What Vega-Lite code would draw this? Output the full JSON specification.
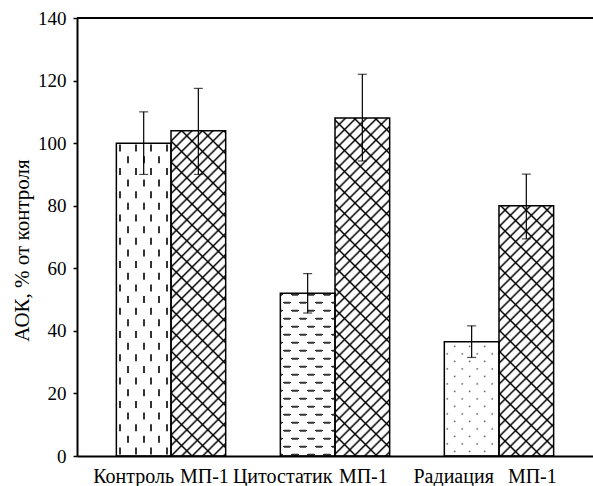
{
"$schema":"https://vega.github.io/schema/vega-lite/v6.json",
"width":516,"height":438,
"autosize":{"type":"none"},
"padding":{"left":77,"top":18,"right":0,"bottom":30},
"background":"white",
"config":{"view":{"stroke":null},"font":"Liberation Serif"},
"params":[
{"name":"slashG","value":{"gradient":"linear","stops":[
{"offset":0,"color":"#000"},{"offset":0.005,"color":"#fff"},{"offset":0.02,"color":"#fff"},
{"offset":0.025,"color":"#000"},{"offset":0.03,"color":"#fff"},{"offset":0.045,"color":"#fff"},
{"offset":0.05,"color":"#000"},{"offset":0.055,"color":"#fff"},{"offset":0.07,"color":"#fff"},
{"offset":0.075,"color":"#000"},{"offset":0.08,"color":"#fff"},{"offset":0.095,"color":"#fff"},
{"offset":0.1,"color":"#000"},{"offset":0.105,"color":"#fff"},{"offset":0.12,"color":"#fff"},
{"offset":0.125,"color":"#000"},{"offset":0.13,"color":"#fff"},{"offset":0.145,"color":"#fff"},
{"offset":0.15,"color":"#000"},{"offset":0.155,"color":"#fff"},{"offset":0.17,"color":"#fff"},
{"offset":0.175,"color":"#000"},{"offset":0.18,"color":"#fff"},{"offset":0.195,"color":"#fff"},
{"offset":0.2,"color":"#000"},{"offset":0.205,"color":"#fff"},{"offset":0.22,"color":"#fff"},
{"offset":0.225,"color":"#000"},{"offset":0.23,"color":"#fff"},{"offset":0.245,"color":"#fff"},
{"offset":0.25,"color":"#000"},{"offset":0.255,"color":"#fff"},{"offset":0.27,"color":"#fff"},
{"offset":0.275,"color":"#000"},{"offset":0.28,"color":"#fff"},{"offset":0.295,"color":"#fff"},
{"offset":0.3,"color":"#000"},{"offset":0.305,"color":"#fff"},{"offset":0.32,"color":"#fff"},
{"offset":0.325,"color":"#000"},{"offset":0.33,"color":"#fff"},{"offset":0.345,"color":"#fff"},
{"offset":0.35,"color":"#000"},{"offset":0.355,"color":"#fff"},{"offset":0.37,"color":"#fff"},
{"offset":0.375,"color":"#000"},{"offset":0.38,"color":"#fff"},{"offset":0.395,"color":"#fff"},
{"offset":0.4,"color":"#000"},{"offset":0.405,"color":"#fff"},{"offset":0.42,"color":"#fff"},
{"offset":0.425,"color":"#000"},{"offset":0.43,"color":"#fff"},{"offset":0.445,"color":"#fff"},
{"offset":0.45,"color":"#000"},{"offset":0.455,"color":"#fff"},{"offset":0.47,"color":"#fff"},
{"offset":0.475,"color":"#000"},{"offset":0.48,"color":"#fff"},{"offset":0.495,"color":"#fff"},
{"offset":0.5,"color":"#000"},{"offset":0.505,"color":"#fff"},{"offset":0.52,"color":"#fff"},
{"offset":0.525,"color":"#000"},{"offset":0.53,"color":"#fff"},{"offset":0.545,"color":"#fff"},
{"offset":0.55,"color":"#000"},{"offset":0.555,"color":"#fff"},{"offset":0.57,"color":"#fff"},
{"offset":0.575,"color":"#000"},{"offset":0.58,"color":"#fff"},{"offset":0.595,"color":"#fff"},
{"offset":0.6,"color":"#000"},{"offset":0.605,"color":"#fff"},{"offset":0.62,"color":"#fff"},
{"offset":0.625,"color":"#000"},{"offset":0.63,"color":"#fff"},{"offset":0.645,"color":"#fff"},
{"offset":0.65,"color":"#000"},{"offset":0.655,"color":"#fff"},{"offset":0.67,"color":"#fff"},
{"offset":0.675,"color":"#000"},{"offset":0.68,"color":"#fff"},{"offset":0.695,"color":"#fff"},
{"offset":0.7,"color":"#000"},{"offset":0.705,"color":"#fff"},{"offset":0.72,"color":"#fff"},
{"offset":0.725,"color":"#000"},{"offset":0.73,"color":"#fff"},{"offset":0.745,"color":"#fff"},
{"offset":0.75,"color":"#000"},{"offset":0.755,"color":"#fff"},{"offset":0.77,"color":"#fff"},
{"offset":0.775,"color":"#000"},{"offset":0.78,"color":"#fff"},{"offset":0.795,"color":"#fff"},
{"offset":0.8,"color":"#000"},{"offset":0.805,"color":"#fff"},{"offset":0.82,"color":"#fff"},
{"offset":0.825,"color":"#000"},{"offset":0.83,"color":"#fff"},{"offset":0.845,"color":"#fff"},
{"offset":0.85,"color":"#000"},{"offset":0.855,"color":"#fff"},{"offset":0.87,"color":"#fff"},
{"offset":0.875,"color":"#000"},{"offset":0.88,"color":"#fff"},{"offset":0.895,"color":"#fff"},
{"offset":0.9,"color":"#000"},{"offset":0.905,"color":"#fff"},{"offset":0.92,"color":"#fff"},
{"offset":0.925,"color":"#000"},{"offset":0.93,"color":"#fff"},{"offset":0.945,"color":"#fff"},
{"offset":0.95,"color":"#000"},{"offset":0.955,"color":"#fff"},{"offset":0.97,"color":"#fff"},
{"offset":0.975,"color":"#000"},{"offset":0.98,"color":"#fff"},{"offset":0.995,"color":"#fff"},
{"offset":1,"color":"#000"}]}},
{"name":"backG","value":{"gradient":"linear","stops":[
{"offset":0,"color":"#000"},{"offset":0.005,"color":"rgba(0,0,0,0)"},{"offset":0.045,"color":"rgba(0,0,0,0)"},
{"offset":0.05,"color":"#000"},{"offset":0.055,"color":"rgba(0,0,0,0)"},{"offset":0.095,"color":"rgba(0,0,0,0)"},
{"offset":0.1,"color":"#000"},{"offset":0.105,"color":"rgba(0,0,0,0)"},{"offset":0.145,"color":"rgba(0,0,0,0)"},
{"offset":0.15,"color":"#000"},{"offset":0.155,"color":"rgba(0,0,0,0)"},{"offset":0.195,"color":"rgba(0,0,0,0)"},
{"offset":0.2,"color":"#000"},{"offset":0.205,"color":"rgba(0,0,0,0)"},{"offset":0.245,"color":"rgba(0,0,0,0)"},
{"offset":0.25,"color":"#000"},{"offset":0.255,"color":"rgba(0,0,0,0)"},{"offset":0.295,"color":"rgba(0,0,0,0)"},
{"offset":0.3,"color":"#000"},{"offset":0.305,"color":"rgba(0,0,0,0)"},{"offset":0.345,"color":"rgba(0,0,0,0)"},
{"offset":0.35,"color":"#000"},{"offset":0.355,"color":"rgba(0,0,0,0)"},{"offset":0.395,"color":"rgba(0,0,0,0)"},
{"offset":0.4,"color":"#000"},{"offset":0.405,"color":"rgba(0,0,0,0)"},{"offset":0.445,"color":"rgba(0,0,0,0)"},
{"offset":0.45,"color":"#000"},{"offset":0.455,"color":"rgba(0,0,0,0)"},{"offset":0.495,"color":"rgba(0,0,0,0)"},
{"offset":0.5,"color":"#000"},{"offset":0.505,"color":"rgba(0,0,0,0)"},{"offset":0.545,"color":"rgba(0,0,0,0)"},
{"offset":0.55,"color":"#000"},{"offset":0.555,"color":"rgba(0,0,0,0)"},{"offset":0.595,"color":"rgba(0,0,0,0)"},
{"offset":0.6,"color":"#000"},{"offset":0.605,"color":"rgba(0,0,0,0)"},{"offset":0.645,"color":"rgba(0,0,0,0)"},
{"offset":0.65,"color":"#000"},{"offset":0.655,"color":"rgba(0,0,0,0)"},{"offset":0.695,"color":"rgba(0,0,0,0)"},
{"offset":0.7,"color":"#000"},{"offset":0.705,"color":"rgba(0,0,0,0)"},{"offset":0.745,"color":"rgba(0,0,0,0)"},
{"offset":0.75,"color":"#000"},{"offset":0.755,"color":"rgba(0,0,0,0)"},{"offset":0.795,"color":"rgba(0,0,0,0)"},
{"offset":0.8,"color":"#000"},{"offset":0.805,"color":"rgba(0,0,0,0)"},{"offset":0.845,"color":"rgba(0,0,0,0)"},
{"offset":0.85,"color":"#000"},{"offset":0.855,"color":"rgba(0,0,0,0)"},{"offset":0.895,"color":"rgba(0,0,0,0)"},
{"offset":0.9,"color":"#000"},{"offset":0.905,"color":"rgba(0,0,0,0)"},{"offset":0.945,"color":"rgba(0,0,0,0)"},
{"offset":0.95,"color":"#000"},{"offset":0.955,"color":"rgba(0,0,0,0)"},{"offset":0.995,"color":"rgba(0,0,0,0)"},
{"offset":1,"color":"#000"}]}},
{"name":"dotA","value":{"gradient":"linear","stops":[
{"offset":0,"color":"#444"},{"offset":0.0111,"color":"#fff"},{"offset":0.0722,"color":"#fff"},
{"offset":0.0833,"color":"#444"},{"offset":0.0944,"color":"#fff"},{"offset":0.1556,"color":"#fff"},
{"offset":0.1667,"color":"#444"},{"offset":0.1778,"color":"#fff"},{"offset":0.2389,"color":"#fff"},
{"offset":0.25,"color":"#444"},{"offset":0.2611,"color":"#fff"},{"offset":0.3222,"color":"#fff"},
{"offset":0.3333,"color":"#444"},{"offset":0.3444,"color":"#fff"},{"offset":0.4056,"color":"#fff"},
{"offset":0.4167,"color":"#444"},{"offset":0.4278,"color":"#fff"},{"offset":0.4889,"color":"#fff"},
{"offset":0.5,"color":"#444"},{"offset":0.5111,"color":"#fff"},{"offset":0.5722,"color":"#fff"},
{"offset":0.5833,"color":"#444"},{"offset":0.5944,"color":"#fff"},{"offset":0.6556,"color":"#fff"},
{"offset":0.6667,"color":"#444"},{"offset":0.6778,"color":"#fff"},{"offset":0.7389,"color":"#fff"},
{"offset":0.75,"color":"#444"},{"offset":0.7611,"color":"#fff"},{"offset":0.8222,"color":"#fff"},
{"offset":0.8333,"color":"#444"},{"offset":0.8444,"color":"#fff"},{"offset":0.9056,"color":"#fff"},
{"offset":0.9167,"color":"#444"},{"offset":0.9278,"color":"#fff"},{"offset":0.9889,"color":"#fff"},
{"offset":1,"color":"#444"}]}},
{"name":"dotB","value":{"gradient":"linear","stops":[
{"offset":0,"color":"rgba(255,255,255,0)"},{"offset":0.0111,"color":"#fff"},{"offset":0.0722,"color":"#fff"},
{"offset":0.0833,"color":"rgba(255,255,255,0)"},{"offset":0.0944,"color":"#fff"},{"offset":0.1556,"color":"#fff"},
{"offset":0.1667,"color":"rgba(255,255,255,0)"},{"offset":0.1778,"color":"#fff"},{"offset":0.2389,"color":"#fff"},
{"offset":0.25,"color":"rgba(255,255,255,0)"},{"offset":0.2611,"color":"#fff"},{"offset":0.3222,"color":"#fff"},
{"offset":0.3333,"color":"rgba(255,255,255,0)"},{"offset":0.3444,"color":"#fff"},{"offset":0.4056,"color":"#fff"},
{"offset":0.4167,"color":"rgba(255,255,255,0)"},{"offset":0.4278,"color":"#fff"},{"offset":0.4889,"color":"#fff"},
{"offset":0.5,"color":"rgba(255,255,255,0)"},{"offset":0.5111,"color":"#fff"},{"offset":0.5722,"color":"#fff"},
{"offset":0.5833,"color":"rgba(255,255,255,0)"},{"offset":0.5944,"color":"#fff"},{"offset":0.6556,"color":"#fff"},
{"offset":0.6667,"color":"rgba(255,255,255,0)"},{"offset":0.6778,"color":"#fff"},{"offset":0.7389,"color":"#fff"},
{"offset":0.75,"color":"rgba(255,255,255,0)"},{"offset":0.7611,"color":"#fff"},{"offset":0.8222,"color":"#fff"},
{"offset":0.8333,"color":"rgba(255,255,255,0)"},{"offset":0.8444,"color":"#fff"},{"offset":0.9056,"color":"#fff"},
{"offset":0.9167,"color":"rgba(255,255,255,0)"},{"offset":0.9278,"color":"#fff"},{"offset":0.9889,"color":"#fff"},
{"offset":1,"color":"rgba(255,255,255,0)"}]}},
{"name":"cutG","value":{"gradient":"linear","stops":[
{"offset":0,"color":"rgba(255,255,255,0)"},{"offset":0.0179,"color":"rgba(255,255,255,0)"},{"offset":0.0179,"color":"#fff"},{"offset":0.0536,"color":"#fff"},
{"offset":0.0536,"color":"rgba(255,255,255,0)"},{"offset":0.0893,"color":"rgba(255,255,255,0)"},{"offset":0.0893,"color":"#fff"},{"offset":0.125,"color":"#fff"},
{"offset":0.125,"color":"rgba(255,255,255,0)"},{"offset":0.1607,"color":"rgba(255,255,255,0)"},{"offset":0.1607,"color":"#fff"},{"offset":0.1964,"color":"#fff"},
{"offset":0.1964,"color":"rgba(255,255,255,0)"},{"offset":0.2321,"color":"rgba(255,255,255,0)"},{"offset":0.2321,"color":"#fff"},{"offset":0.2679,"color":"#fff"},
{"offset":0.2679,"color":"rgba(255,255,255,0)"},{"offset":0.3036,"color":"rgba(255,255,255,0)"},{"offset":0.3036,"color":"#fff"},{"offset":0.3393,"color":"#fff"},
{"offset":0.3393,"color":"rgba(255,255,255,0)"},{"offset":0.375,"color":"rgba(255,255,255,0)"},{"offset":0.375,"color":"#fff"},{"offset":0.4107,"color":"#fff"},
{"offset":0.4107,"color":"rgba(255,255,255,0)"},{"offset":0.4464,"color":"rgba(255,255,255,0)"},{"offset":0.4464,"color":"#fff"},{"offset":0.4821,"color":"#fff"},
{"offset":0.4821,"color":"rgba(255,255,255,0)"},{"offset":0.5179,"color":"rgba(255,255,255,0)"},{"offset":0.5179,"color":"#fff"},{"offset":0.5536,"color":"#fff"},
{"offset":0.5536,"color":"rgba(255,255,255,0)"},{"offset":0.5893,"color":"rgba(255,255,255,0)"},{"offset":0.5893,"color":"#fff"},{"offset":0.625,"color":"#fff"},
{"offset":0.625,"color":"rgba(255,255,255,0)"},{"offset":0.6607,"color":"rgba(255,255,255,0)"},{"offset":0.6607,"color":"#fff"},{"offset":0.6964,"color":"#fff"},
{"offset":0.6964,"color":"rgba(255,255,255,0)"},{"offset":0.7321,"color":"rgba(255,255,255,0)"},{"offset":0.7321,"color":"#fff"},{"offset":0.7679,"color":"#fff"},
{"offset":0.7679,"color":"rgba(255,255,255,0)"},{"offset":0.8036,"color":"rgba(255,255,255,0)"},{"offset":0.8036,"color":"#fff"},{"offset":0.8393,"color":"#fff"},
{"offset":0.8393,"color":"rgba(255,255,255,0)"},{"offset":0.875,"color":"rgba(255,255,255,0)"},{"offset":0.875,"color":"#fff"},{"offset":0.9107,"color":"#fff"},
{"offset":0.9107,"color":"rgba(255,255,255,0)"},{"offset":0.9464,"color":"rgba(255,255,255,0)"},{"offset":0.9464,"color":"#fff"},{"offset":0.9821,"color":"#fff"},
{"offset":0.9821,"color":"rgba(255,255,255,0)"},{"offset":1,"color":"rgba(255,255,255,0)"}]}}
],
"data":{"values":[
{"bar":"k","label":"Контроль","v":100,"lo":90,"hi":110},
{"bar":"m1","label":"МП-1","v":104,"lo":90,"hi":117.5},
{"bar":"c","label":"Цитостатик","v":52,"lo":45.7,"hi":58.3},
{"bar":"m2","label":"МП-1","v":108,"lo":94.3,"hi":122},
{"bar":"r","label":"Радиация","v":36.5,"lo":31.5,"hi":41.6},
{"bar":"m3","label":"МП-1","v":80,"lo":69.4,"hi":90.1}
]},
"layer":[
  {"transform":[{"filter":"datum.bar == 'm1' || datum.bar == 'm2' || datum.bar == 'm3'"}],
   "mark":{"type":"bar","fill":{"expr":"merge(slashG, {x1: 0, y1: 0, x2: 54.661*420/(2987.8+pow(datum.v*3.128571,2)), y2: datum.v*3.128571*420/(2987.8+pow(datum.v*3.128571,2))})"}},
   "encoding":{
    "x":{"field":"bar","type":"nominal","scale":{"domain":["k","m1","g1","c","m2","g2","r","m3"],"paddingInner":0,"paddingOuter":0.72,"round":false},
         "axis":{"title":null,"labels":false,"ticks":false,"domainColor":"black","domainWidth":2,"zindex":1}},
    "y":{"field":"v","type":"quantitative","scale":{"domain":[0,140],"nice":false},
         "axis":{"title":"АОК, % от контроля","titleFont":"Liberation Serif","titleFontSize":21,"titleFontWeight":"normal","titleColor":"black",
              "titleX":-49,"titleY":232,"titleAngle":-90,"titleAlign":"center","titleBaseline":"alphabetic",
              "values":[0,20,40,60,80,100,120,140],"labelFont":"Liberation Serif","labelFontSize":19,"labelColor":"black","labelPadding":7,
              "tickSize":4,"tickWidth":1.5,"tickColor":"black","domainColor":"black","domainWidth":2,"grid":false,"labelFlush":false,"labelOverlap":false,"zindex":1}}}},
  {"transform":[{"filter":"datum.bar == 'm1' || datum.bar == 'm2' || datum.bar == 'm3'"}],
   "mark":{"type":"bar","fill":{"expr":"merge(backG, {x1: 0, y1: 1, x2: 54.661*420/(2987.8+pow(datum.v*3.128571,2)), y2: 1-datum.v*3.128571*420/(2987.8+pow(datum.v*3.128571,2))})"}},
   "encoding":{
    "x":{"field":"bar","type":"nominal","scale":{"domain":["k","m1","g1","c","m2","g2","r","m3"],"paddingInner":0,"paddingOuter":0.72,"round":false}},
    "y":{"field":"v","type":"quantitative","scale":{"domain":[0,140],"nice":false}}}},
  {"transform":[{"filter":"datum.bar == 'k'"}],
   "mark":{"type":"bar","fill":{"gradient":"linear","x1":0,"y1":0,"x2":1,"y2":0,"stops":[
    {"offset":0,"color":"#fff"},{"offset":0.0549,"color":"#fff"},{"offset":0.0549,"color":"#333"},{"offset":0.0915,"color":"#333"},
    {"offset":0.0915,"color":"#fff"},{"offset":0.1967,"color":"#fff"},{"offset":0.1967,"color":"#333"},{"offset":0.2333,"color":"#333"},
    {"offset":0.2333,"color":"#fff"},{"offset":0.3385,"color":"#fff"},{"offset":0.3385,"color":"#333"},{"offset":0.375,"color":"#333"},
    {"offset":0.375,"color":"#fff"},{"offset":0.4802,"color":"#fff"},{"offset":0.4802,"color":"#333"},{"offset":0.5168,"color":"#333"},
    {"offset":0.5168,"color":"#fff"},{"offset":0.622,"color":"#fff"},{"offset":0.622,"color":"#333"},{"offset":0.6586,"color":"#333"},
    {"offset":0.6586,"color":"#fff"},{"offset":0.7638,"color":"#fff"},{"offset":0.7638,"color":"#333"},{"offset":0.8004,"color":"#333"},
    {"offset":0.8004,"color":"#fff"},{"offset":0.9056,"color":"#fff"},{"offset":0.9056,"color":"#333"},{"offset":0.9422,"color":"#333"},
    {"offset":0.9422,"color":"#fff"},{"offset":1,"color":"#fff"}]}},
   "encoding":{
    "x":{"field":"bar","type":"nominal","scale":{"domain":["k","m1","g1","c","m2","g2","r","m3"],"paddingInner":0,"paddingOuter":0.72,"round":false}},
    "y":{"field":"v","type":"quantitative","scale":{"domain":[0,140],"nice":false}}}},
  {"transform":[{"filter":"datum.bar == 'k'"}],
   "mark":{"type":"rule","stroke":"white","strokeWidth":54,"strokeDash":[4.65,7],"strokeDashOffset":3.17},
   "encoding":{
    "x":{"field":"bar","type":"nominal","scale":{"domain":["k","m1","g1","c","m2","g2","r","m3"],"paddingInner":0,"paddingOuter":0.72,"round":false}},
    "y":{"field":"v","type":"quantitative","scale":{"domain":[0,140],"nice":false}},
    "y2":{"datum":0}}},
  {"transform":[{"filter":"datum.bar == 'k'"}],
   "mark":{"type":"bar","fill":{"gradient":"linear","x1":0,"y1":1,"x2":0.31106,"y2":-0.1844,"stops":[
    {"offset":0,"color":"#fff"},{"offset":0.013,"color":"#fff"},{"offset":0.013,"color":"rgba(255,255,255,0)"},{"offset":0.0424,"color":"rgba(255,255,255,0)"},
    {"offset":0.0424,"color":"#fff"},{"offset":0.0719,"color":"#fff"},{"offset":0.0719,"color":"rgba(255,255,255,0)"},{"offset":0.1013,"color":"rgba(255,255,255,0)"},
    {"offset":0.1013,"color":"#fff"},{"offset":0.1307,"color":"#fff"},{"offset":0.1307,"color":"rgba(255,255,255,0)"},{"offset":0.1601,"color":"rgba(255,255,255,0)"},
    {"offset":0.1601,"color":"#fff"},{"offset":0.1895,"color":"#fff"},{"offset":0.1895,"color":"rgba(255,255,255,0)"},{"offset":0.2189,"color":"rgba(255,255,255,0)"},
    {"offset":0.2189,"color":"#fff"},{"offset":0.2483,"color":"#fff"},{"offset":0.2483,"color":"rgba(255,255,255,0)"},{"offset":0.2777,"color":"rgba(255,255,255,0)"},
    {"offset":0.2777,"color":"#fff"},{"offset":0.3071,"color":"#fff"},{"offset":0.3071,"color":"rgba(255,255,255,0)"},{"offset":0.3366,"color":"rgba(255,255,255,0)"},
    {"offset":0.3366,"color":"#fff"},{"offset":0.366,"color":"#fff"},{"offset":0.366,"color":"rgba(255,255,255,0)"},{"offset":0.3954,"color":"rgba(255,255,255,0)"},
    {"offset":0.3954,"color":"#fff"},{"offset":0.4248,"color":"#fff"},{"offset":0.4248,"color":"rgba(255,255,255,0)"},{"offset":0.4542,"color":"rgba(255,255,255,0)"},
    {"offset":0.4542,"color":"#fff"},{"offset":0.4836,"color":"#fff"},{"offset":0.4836,"color":"rgba(255,255,255,0)"},{"offset":0.513,"color":"rgba(255,255,255,0)"},
    {"offset":0.513,"color":"#fff"},{"offset":0.5424,"color":"#fff"},{"offset":0.5424,"color":"rgba(255,255,255,0)"},{"offset":0.5719,"color":"rgba(255,255,255,0)"},
    {"offset":0.5719,"color":"#fff"},{"offset":0.6013,"color":"#fff"},{"offset":0.6013,"color":"rgba(255,255,255,0)"},{"offset":0.6307,"color":"rgba(255,255,255,0)"},
    {"offset":0.6307,"color":"#fff"},{"offset":0.6601,"color":"#fff"},{"offset":0.6601,"color":"rgba(255,255,255,0)"},{"offset":0.6895,"color":"rgba(255,255,255,0)"},
    {"offset":0.6895,"color":"#fff"},{"offset":0.7189,"color":"#fff"},{"offset":0.7189,"color":"rgba(255,255,255,0)"},{"offset":0.7483,"color":"rgba(255,255,255,0)"},
    {"offset":0.7483,"color":"#fff"},{"offset":0.7777,"color":"#fff"},{"offset":0.7777,"color":"rgba(255,255,255,0)"},{"offset":0.8071,"color":"rgba(255,255,255,0)"},
    {"offset":0.8071,"color":"#fff"},{"offset":0.8366,"color":"#fff"},{"offset":0.8366,"color":"rgba(255,255,255,0)"},{"offset":0.866,"color":"rgba(255,255,255,0)"},
    {"offset":0.866,"color":"#fff"},{"offset":0.8954,"color":"#fff"},{"offset":0.8954,"color":"rgba(255,255,255,0)"},{"offset":0.9248,"color":"rgba(255,255,255,0)"},
    {"offset":0.9248,"color":"#fff"},{"offset":0.9542,"color":"#fff"},{"offset":0.9542,"color":"rgba(255,255,255,0)"},{"offset":0.9836,"color":"rgba(255,255,255,0)"},
    {"offset":0.9836,"color":"#fff"},{"offset":1,"color":"#fff"}]}},
   "encoding":{
    "x":{"field":"bar","type":"nominal","scale":{"domain":["k","m1","g1","c","m2","g2","r","m3"],"paddingInner":0,"paddingOuter":0.72,"round":false}},
    "y":{"field":"v","type":"quantitative","scale":{"domain":[0,140],"nice":false}}}},
  {"transform":[{"filter":"datum.bar == 'c'"}],
   "mark":{"type":"rule","stroke":"#333","strokeWidth":54,"strokeDash":[2,6],"strokeDashOffset":7.65},
   "encoding":{
    "x":{"field":"bar","type":"nominal","scale":{"domain":["k","m1","g1","c","m2","g2","r","m3"],"paddingInner":0,"paddingOuter":0.72,"round":false}},
    "y":{"field":"v","type":"quantitative","scale":{"domain":[0,140],"nice":false}},
    "y2":{"datum":0}}},
  {"transform":[{"filter":"datum.bar == 'c'"}],
   "mark":{"type":"bar","fill":{"expr":"merge(cutG, {x1: 0, y1: 0, x2: 54.661*224/(2987.8+pow(datum.v*3.128571,2)), y2: datum.v*3.128571*224/(2987.8+pow(datum.v*3.128571,2))})"}},
   "encoding":{
    "x":{"field":"bar","type":"nominal","scale":{"domain":["k","m1","g1","c","m2","g2","r","m3"],"paddingInner":0,"paddingOuter":0.72,"round":false}},
    "y":{"field":"v","type":"quantitative","scale":{"domain":[0,140],"nice":false}}}},
  {"transform":[{"filter":"datum.bar == 'c'"}],
   "mark":{"type":"bar","fill":{"expr":"merge(cutG, {x1: 0, y1: 1, x2: 54.661*224/(2987.8+pow(datum.v*3.128571,2)), y2: 1-datum.v*3.128571*224/(2987.8+pow(datum.v*3.128571,2))})"}},
   "encoding":{
    "x":{"field":"bar","type":"nominal","scale":{"domain":["k","m1","g1","c","m2","g2","r","m3"],"paddingInner":0,"paddingOuter":0.72,"round":false}},
    "y":{"field":"v","type":"quantitative","scale":{"domain":[0,140],"nice":false}}}},
  {"transform":[{"filter":"datum.bar == 'r'"}],
   "mark":{"type":"bar","fill":{"expr":"merge(dotA, {x1: 0, y1: 0, x2: 54.661*180/(2987.8+pow(datum.v*3.128571,2)), y2: datum.v*3.128571*180/(2987.8+pow(datum.v*3.128571,2))})"}},
   "encoding":{
    "x":{"field":"bar","type":"nominal","scale":{"domain":["k","m1","g1","c","m2","g2","r","m3"],"paddingInner":0,"paddingOuter":0.72,"round":false}},
    "y":{"field":"v","type":"quantitative","scale":{"domain":[0,140],"nice":false}}}},
  {"transform":[{"filter":"datum.bar == 'r'"}],
   "mark":{"type":"bar","fill":{"expr":"merge(dotB, {x1: 0, y1: 1, x2: 54.661*180/(2987.8+pow(datum.v*3.128571,2)), y2: 1-datum.v*3.128571*180/(2987.8+pow(datum.v*3.128571,2))})"}},
   "encoding":{
    "x":{"field":"bar","type":"nominal","scale":{"domain":["k","m1","g1","c","m2","g2","r","m3"],"paddingInner":0,"paddingOuter":0.72,"round":false}},
    "y":{"field":"v","type":"quantitative","scale":{"domain":[0,140],"nice":false}}}},
  {"mark":{"type":"bar","fillOpacity":0,"stroke":"black","strokeWidth":1.5},
   "encoding":{
    "x":{"field":"bar","type":"nominal","scale":{"domain":["k","m1","g1","c","m2","g2","r","m3"],"paddingInner":0,"paddingOuter":0.72,"round":false}},
    "y":{"field":"v","type":"quantitative","scale":{"domain":[0,140],"nice":false}}}},
  {"mark":{"type":"rule","color":"black","strokeWidth":1.2},
   "encoding":{
    "x":{"field":"bar","type":"nominal","scale":{"domain":["k","m1","g1","c","m2","g2","r","m3"],"paddingInner":0,"paddingOuter":0.72,"round":false}},
    "y":{"field":"lo","type":"quantitative","scale":{"domain":[0,140],"nice":false}},
    "y2":{"field":"hi"}}},
  {"mark":{"type":"tick","color":"black","size":9,"thickness":1.2},
   "encoding":{
    "x":{"field":"bar","type":"nominal","scale":{"domain":["k","m1","g1","c","m2","g2","r","m3"],"paddingInner":0,"paddingOuter":0.72,"round":false}},
    "y":{"field":"hi","type":"quantitative","scale":{"domain":[0,140],"nice":false}}}},
  {"mark":{"type":"tick","color":"black","size":9,"thickness":1.2},
   "encoding":{
    "x":{"field":"bar","type":"nominal","scale":{"domain":["k","m1","g1","c","m2","g2","r","m3"],"paddingInner":0,"paddingOuter":0.72,"round":false}},
    "y":{"field":"lo","type":"quantitative","scale":{"domain":[0,140],"nice":false}}}},
  {"mark":{"type":"text","baseline":"alphabetic","dy":27,"font":"Liberation Serif","fontSize":20,"color":"black",
           "dx":{"expr":"datum.bar == 'k' ? -10 : datum.bar == 'c' ? -25 : datum.bar == 'r' ? -18 : datum.bar == 'm2' ? 1 : 6"}},
   "encoding":{
    "x":{"field":"bar","type":"nominal","scale":{"domain":["k","m1","g1","c","m2","g2","r","m3"],"paddingInner":0,"paddingOuter":0.72,"round":false}},
    "y":{"datum":0,"type":"quantitative","scale":{"domain":[0,140],"nice":false}},
    "text":{"field":"label"}}},
  {"mark":{"type":"rule","color":"black","strokeWidth":2},
   "encoding":{"y":{"datum":140,"type":"quantitative","scale":{"domain":[0,140],"nice":false}}}}
]
}
